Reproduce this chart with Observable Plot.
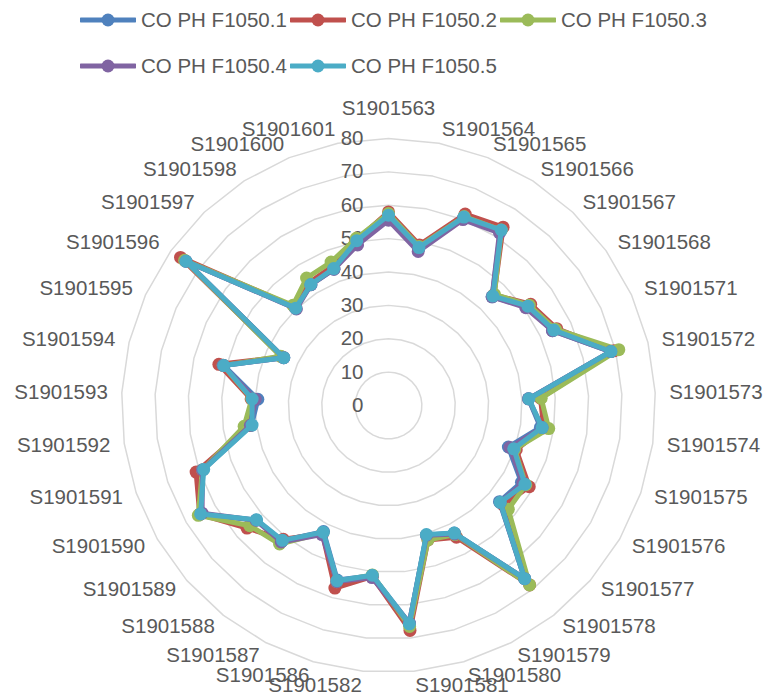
<!DOCTYPE html>
<html>
<head>
<meta charset="utf-8">
<script src="https://cdn.jsdelivr.net/npm/d3@7"></script>
<script src="https://cdn.jsdelivr.net/npm/@observablehq/plot@0.6"></script>
<style>
  html, body { margin: 0; padding: 0; background: #fff; }
  #wrap { width: 764px; height: 698px; position: relative; overflow: hidden; font-family: "Liberation Sans", Arial, sans-serif; }
  #legend { position: relative; width: 764px; height: 92px; }
  .item { position: absolute; display: flex; align-items: center; height: 24px; }
  .item span { font-size: 20.5px; color: #595959; margin-left: 5px; white-space: nowrap; }
</style>
</head>
<body>
<div id="wrap">
  <div id="legend"></div>
  <div id="chart"></div>
</div>
<script>
const categories = ["S1901563","S1901564","S1901565","S1901566","S1901567","S1901568","S1901571","S1901572","S1901573","S1901574","S1901575","S1901576","S1901577","S1901578","S1901579","S1901580","S1901581","S1901582","S1901586","S1901587","S1901588","S1901589","S1901590","S1901591","S1901592","S1901593","S1901594","S1901595","S1901596","S1901597","S1901598","S1901600","S1901601"];
const seriesNames = ["CO PH F1050.1","CO PH F1050.2","CO PH F1050.3","CO PH F1050.4","CO PH F1050.5"];
const seriesColors = ["#4f81bd","#c0504d","#9bbb59","#8064a2","#4bacc6"];
const s1 = [56.5,47.8,60.5,62,45,51,54,68.5,42,46,38,46,44,66,43,40.5,65.5,51.2,54.5,42.5,51.5,52.5,65,58.8,41.5,39.2,50.8,34.5,74.5,40.3,43,44,50];
const s2 = [58,49,61.8,63.5,45.8,52.3,55.4,69.5,45.6,47,40.5,48.7,45.5,68.4,44.4,42,67.7,51.5,57,43.2,51,56.1,65.3,61,42,41.2,52.3,35,76.5,40.8,43.8,45,50.5];
const s3 = [57.5,48.5,61,62.5,46,51.8,55,71,45.8,48.5,40,47.5,47.5,68.4,43.5,42,66.5,51,55,43,52.8,55,65.8,59,43.7,41,51,35.5,75,41.5,45.4,46.3,51];
const s4 = [55.5,47,60,61.5,45,50.5,54,68.5,42,46.5,38.5,46.5,44.3,66,43.3,40.5,65.5,51.8,55,43.5,52,52.5,64.5,59,41.8,40,51,34.5,74.5,40,43,44,49];
const s5 = [57,48.2,60.8,62.5,45.3,51.3,54.4,68.6,42.1,46.5,39.7,47.2,44.3,66,43,40.3,65.7,51.1,54.7,42.7,51.4,52.3,65,58.6,41.3,40.9,50.8,34.5,74.5,40.3,43.1,44.2,50.3];
const tickValues = [0,10,20,30,40,50,60,70,80];

const seriesValues = [s1,s2,s3,s4,s5];
const N = categories.length;
const ang = i => i * 2 * Math.PI / N;

// layout
const W = 764, H = 606;
const k = 267 / 80;          // px per unit
const cx = 388, cy = 313;    // centre inside svg
const labelR = 281 / k;

const rows = seriesValues.flatMap((vals, si) => vals.map((v, i) => ({
  series: seriesNames[si], i, v,
  x: v * Math.sin(ang(i)), y: v * Math.cos(ang(i))
})));

const grid = tickValues.filter(t => t > 0).flatMap(t => categories.map((c, i) => ({
  t, x: t * Math.sin(ang(i)), y: t * Math.cos(ang(i))
})));

const labels = categories.map((c, i) => ({
  c, s: Math.sin(ang(i)),
  x: labelR * Math.sin(ang(i)), y: labelR * Math.cos(ang(i))
}));

const font = 20.5;
const marks = [
  Plot.line(grid, {x: "x", y: "y", z: "t", curve: "linear-closed", stroke: "#d9d9d9", strokeWidth: 1.5}),
  Plot.text(tickValues, {x: 0, y: d => d, text: d => String(d), dx: -25, textAnchor: "end", fill: "#595959", fontSize: font}),
  Plot.text(labels.filter(d => d.s > 0.01), {x: "x", y: "y", text: "c", textAnchor: "start", fill: "#595959", fontSize: font}),
  Plot.text(labels.filter(d => d.s < -0.01), {x: "x", y: "y", text: "c", textAnchor: "end", fill: "#595959", fontSize: font}),
  Plot.text(labels.filter(d => Math.abs(d.s) <= 0.01), {x: "x", y: "y", text: "c", textAnchor: "middle", dy: -16, fill: "#595959", fontSize: font})
];
seriesNames.forEach(name => {
  const d = rows.filter(r => r.series === name);
  marks.push(Plot.line(d, {x: "x", y: "y", stroke: "series", curve: "linear-closed", strokeWidth: 5, strokeLinejoin: "round"}));
  marks.push(Plot.dot(d, {x: "x", y: "y", fill: "series", r: 6.5}));
});

const chart = Plot.plot({
  width: W, height: H,
  marginTop: 0, marginRight: 0, marginBottom: 0, marginLeft: 0,
  style: {fontFamily: "'Liberation Sans', Arial, sans-serif", background: "white"},
  x: {domain: [-cx / k, (W - cx) / k], axis: null},
  y: {domain: [-(H - cy) / k, cy / k], axis: null},
  color: {domain: seriesNames, range: seriesColors},
  marks
});
document.getElementById("chart").appendChild(chart);

// legend
const legend = document.getElementById("legend");
const pos = [[80, 20], [290, 20], [500, 20], [80, 66], [290, 66]];
seriesNames.forEach((name, i) => {
  const it = document.createElement("div");
  it.className = "item";
  it.style.left = pos[i][0] + "px";
  it.style.top = (pos[i][1] - 12) + "px";
  const col = seriesColors[i];
  it.innerHTML = `<svg width="56" height="20"><line x1="1" y1="10" x2="55" y2="10" stroke="${col}" stroke-width="5" stroke-linecap="round"/><circle cx="28" cy="10" r="6.5" fill="${col}"/></svg><span>${name}</span>`;
  legend.appendChild(it);
});
</script>
</body>
</html>
